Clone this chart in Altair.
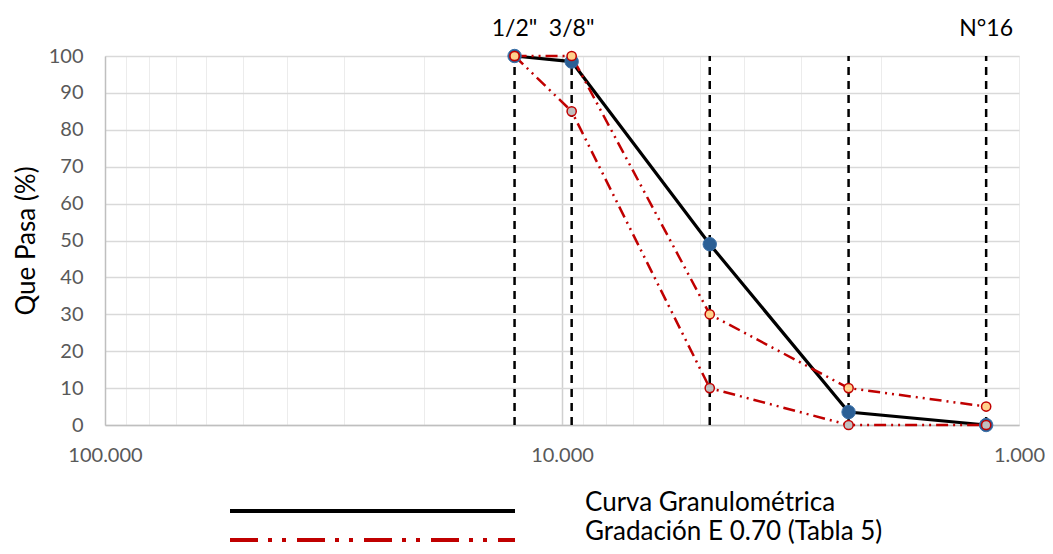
import altair as alt
import pandas as pd

# Sieve openings (mm) and names
sizes = [12.7, 9.525, 4.75, 2.36, 1.18]
sieve_names = ['1/2"', '3/8"', 'N°4', 'N°8', 'N°16']
top_label_names = ['1/2"', '3/8"', 'N°16']

# Percent passing
curva = [100, 98.5, 49, 3.5, 0]
upper = [100, 100, 30, 10, 5]
lower = [100, 85, 10, 0, 0]

series_curva = "Curva Granulométrica"
series_grad = "Gradación E 0.70 (Tabla 5)"

x_ticks = [100, 90, 80, 70, 60, 50, 40, 30, 20, 10, 9, 8, 7, 6, 5, 4, 3, 2, 1]
y_ticks = [0, 10, 20, 30, 40, 50, 60, 70, 80, 90, 100]

df_curva = pd.DataFrame({"size": sizes, "pct": curva, "series": series_curva, "limit": "curva"})
df_upper = pd.DataFrame({"size": sizes, "pct": upper, "series": series_grad, "limit": "upper"})
df_lower = pd.DataFrame({"size": sizes, "pct": lower, "series": series_grad, "limit": "lower"})
df_grad = pd.concat([df_upper, df_lower], ignore_index=True)
df_sieves = pd.DataFrame({"size": sizes, "name": sieve_names})
df_top = df_sieves[df_sieves["name"].isin(top_label_names)]

FONT = "Lato"
RED = "#c00000"
GRAD_DASH = [12, 5, 2, 5, 2, 5]

xscale = alt.Scale(type="log", domain=[1, 100], reverse=True)
yscale = alt.Scale(domain=[0, 100], nice=False)

xaxis = alt.Axis(
    values=x_ticks,
    labelExpr="(datum.value == 100 || datum.value == 10 || datum.value == 1) ? format(datum.value, '.3f') : ''",
    labelOverlap=False, labelFlush=False,
    labelFont=FONT, labelFontSize=20, labelColor="#595959", labelPadding=20,
    ticks=False, title=None,
    grid=True,
    gridColor={"condition": {"test": "datum.value == 10", "value": "#d0d0d0"}, "value": "#ececec"},
    gridWidth={"condition": {"test": "datum.value == 10", "value": 1.5}, "value": 1},
    domainColor="#bfbfbf", domainWidth=1.5,
)
yaxis = alt.Axis(
    values=y_ticks, labelOverlap=False, labelFlush=False,
    labelFont=FONT, labelFontSize=20, labelColor="#595959", labelPadding=22,
    ticks=False, grid=True, gridColor="#d9d9d9", gridWidth=1.5,
    domainColor="#bfbfbf", domainWidth=1.5,
    title="Que Pasa (%)", titleFont=FONT, titleFontSize=26, titleFontWeight="normal",
    titleColor="black", titlePadding=9,
)


def make_legend(y, dash):
    return alt.Legend(
        orient="none", legendX=123, legendY=y, title=None,
        symbolType="stroke", symbolSize=285 ** 2, symbolStrokeWidth=4, symbolDash=dash,
        labelFont=FONT, labelFontSize=26, labelColor="black", labelOffset=68, labelLimit=0,
        labelBaseline="alphabetic", clipHeight=16, padding=0,
    )


X = alt.X("size:Q", scale=xscale, axis=xaxis)
Y = alt.Y("pct:Q", scale=yscale, axis=yaxis)

sieve_rules = alt.Chart(df_sieves).mark_rule(color="black", strokeWidth=2.5, strokeDash=[8, 6]).encode(
    x=X,
    y=alt.datum(0, scale=yscale, axis=yaxis),
    y2=alt.datum(100),
)

curva_line = alt.Chart(df_curva).mark_line(strokeWidth=3.2).encode(
    x=X, y=Y,
    color=alt.Color("series:N", scale=alt.Scale(domain=[series_curva], range=["black"]),
                    legend=make_legend(447, [1, 0])),
)

grad_lines = alt.Chart(df_grad).mark_line(strokeWidth=2.5, strokeDash=GRAD_DASH).encode(
    x=X, y=Y,
    color=alt.Color("series:N", scale=alt.Scale(domain=[series_grad], range=[RED]),
                    legend=make_legend(476, [28, 10, 4, 10, 4, 11])),
    detail="limit:N",
)

curva_pts = alt.Chart(df_curva).mark_point(filled=True, size=180, fill="#2b5f95", stroke="#3a70a8",
                                           strokeWidth=1, opacity=1).encode(x=X, y=Y)

lower_pts = alt.Chart(df_lower).mark_point(filled=True, size=85, fill="#bfbfbf", stroke=RED,
                                           strokeWidth=1.5, opacity=1).encode(x=X, y=Y)

upper_pts = alt.Chart(df_upper).mark_point(filled=True, size=85, fill="#ffd28c", stroke=RED,
                                           strokeWidth=1.5, opacity=1).encode(x=X, y=Y)

top_text = alt.Chart(df_top).mark_text(font=FONT, fontSize=23, color="black", baseline="alphabetic",
                                       dy=-20).encode(
    x=X,
    y=alt.datum(100, scale=yscale, axis=yaxis),
    text="name:N",
)

chart = alt.layer(
    sieve_rules, curva_line, grad_lines, curva_pts, lower_pts, upper_pts, top_text
).resolve_scale(color="independent").resolve_legend(color="independent").properties(
    width=914, height=369,
    autosize=alt.AutoSizeParams(type="none"),
    padding={"left": 97, "top": 48, "right": 26, "bottom": 121},
).configure_view(stroke=None).configure(background="white")

chart.save("out.html", embed_options={"renderer": "svg", "actions": False})
